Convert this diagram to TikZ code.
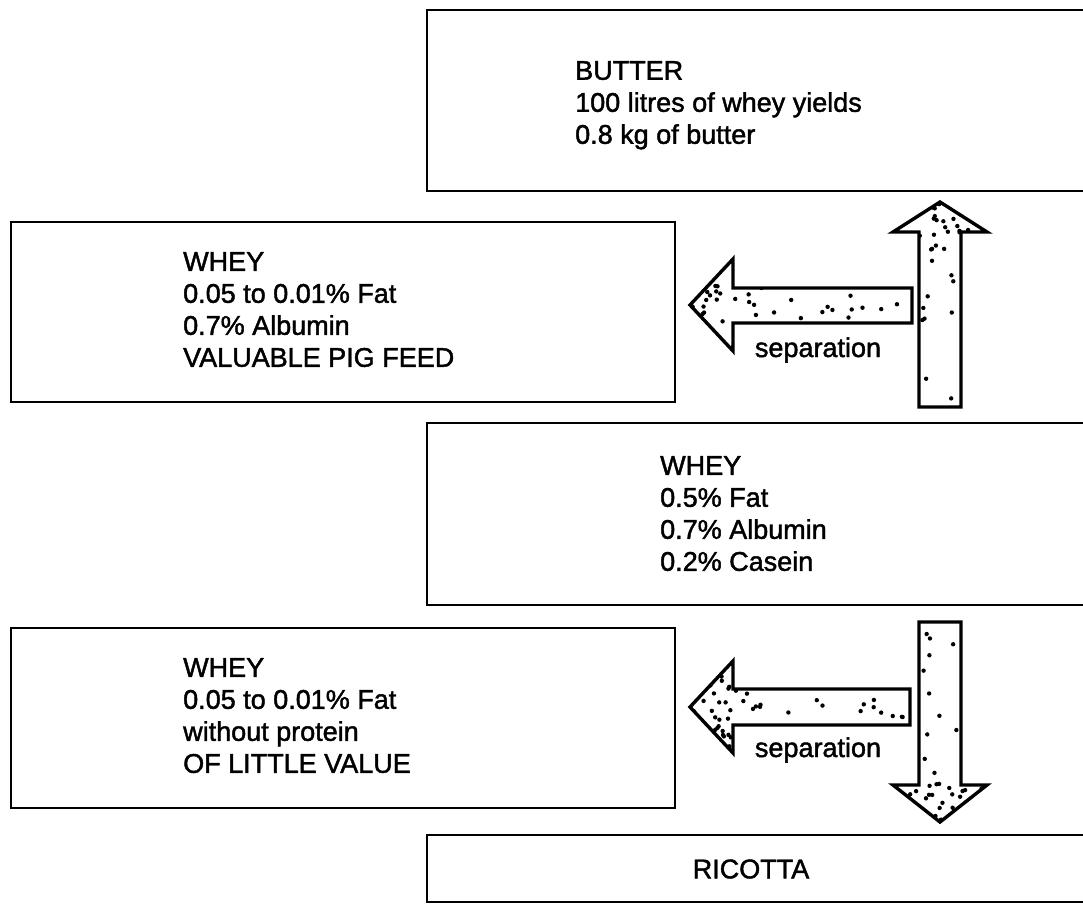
\documentclass[tikz,border=0pt]{standalone}
\usepackage{fontspec}
\setmainfont{Liberation Sans}
\newfontfamily\scanfont{Liberation Sans}[FakeBold=1.6]
\usetikzlibrary{calc}
% #1 count, #2 x0, #3 dx, #4 x power, #5 y0, #6 dy, #7 y power
\newcommand\stipplept[7]{%
  \foreach \k in {1,...,#1}{%
    \pgfmathsetmacro\px{#2+(rnd^#4)*(#3)}%
    \pgfmathsetmacro\py{#5+(rnd^#7)*(#6)}%
    \fill (\px,\py) circle (2.2);}}
\begin{document}
\begin{tikzpicture}[x=1pt,y=-1pt,
  box/.style={draw, line width=2.5pt, inner sep=0pt, outer sep=0pt, anchor=north west},
  txt/.style={inner sep=0pt, align=left, anchor=north west, font=\scanfont\fontsize{27}{32}\selectfont},
  blk/.style={draw, line width=3.4pt, line join=miter}]
\useasboundingbox (0,0) rectangle (1083,908);
\fill[white] (0,0) rectangle (1083,908);
\clip (0,0) rectangle (1083,908);
\pgfmathsetseed{23}
% boxes
\node[box, minimum width=670pt, minimum height=181pt] (butter) at (427,10) {};
\node[box, minimum width=664pt, minimum height=180pt] (wheyA) at (11,222) {};
\node[box, minimum width=670pt, minimum height=182pt] (wheyB) at (427,423) {};
\node[box, minimum width=664pt, minimum height=180pt] (wheyC) at (11,628) {};
\node[box, minimum width=670pt, minimum height=67pt] (ricotta) at (427,835) {};
% texts (north west = cap top of first line)
\node[txt] (tbutter) at (575,61) {BUTTER\\100 litres of whey yields\\0.8 kg of butter};
\node[txt] (twheyA) at (183,252) {WHEY\\0.05 to 0.01\% Fat\\0.7\% Albumin\\VALUABLE PIG FEED};
\node[txt] (twheyB) at (660,456) {WHEY\\0.5\% Fat\\0.7\% Albumin\\0.2\% Casein};
\node[txt] (twheyC) at (183,658) {WHEY\\0.05 to 0.01\% Fat\\without protein\\OF LITTLE VALUE};
\node[txt, anchor=center] (tricotta) at (751,869) {RICOTTA};
\node[txt, anchor=base] (sep1) at (818,357) {separation};
\node[txt, anchor=base] (sep2) at (818,757) {separation};
% named points of the block arrows
\coordinate (upTip) at (940,202);
\coordinate (dnTip) at (940,822);
\coordinate (l1Tip) at (690,305);
\coordinate (l2Tip) at (690,707);
% up arrow (wheyB -> butter)
\begin{scope}
\clip (919,407) -- (919,232) -- (893,232) -- (upTip) -- (987,232) -- (961,232) -- (961,407) -- cycle;
\stipplept{55}{893}{94}{1}{204}{46}{1.7}
\stipplept{10}{922}{36}{1}{250}{150}{1}
\end{scope}
\draw[blk] (919,407) -- (919,232) -- (893,232) -- (upTip) -- (987,232) -- (961,232) -- (961,407) -- cycle;
% left arrow 1 (-> wheyA)
\begin{scope}
\clip (912,288) -- (733,288) -- (733,259) -- (l1Tip) -- (733,351) -- (733,323) -- (912,323) -- cycle;
\stipplept{60}{692}{70}{1.7}{259}{92}{1}
\stipplept{12}{760}{148}{1}{292}{27}{1}
\end{scope}
\draw[blk] (912,288) -- (733,288) -- (733,259) -- (l1Tip) -- (733,351) -- (733,323) -- (912,323) -- cycle;
% down arrow (wheyB -> ricotta)
\begin{scope}
\clip (919,622) -- (961,622) -- (961,785) -- (987,785) -- (dnTip) -- (893,785) -- (919,785) -- cycle;
\stipplept{11}{922}{36}{1}{630}{145}{1}
\stipplept{45}{893}{94}{1}{820}{-48}{1.7}
\end{scope}
\draw[blk] (919,622) -- (961,622) -- (961,785) -- (987,785) -- (dnTip) -- (893,785) -- (919,785) -- cycle;
% left arrow 2 (-> wheyC)
\begin{scope}
\clip (910,689) -- (733,689) -- (733,661) -- (l2Tip) -- (733,753) -- (733,725) -- (910,725) -- cycle;
\stipplept{60}{692}{70}{1.7}{661}{92}{1}
\stipplept{12}{760}{146}{1}{693}{28}{1}
\end{scope}
\draw[blk] (910,689) -- (733,689) -- (733,661) -- (l2Tip) -- (733,753) -- (733,725) -- (910,725) -- cycle;
\end{tikzpicture}
\end{document}
